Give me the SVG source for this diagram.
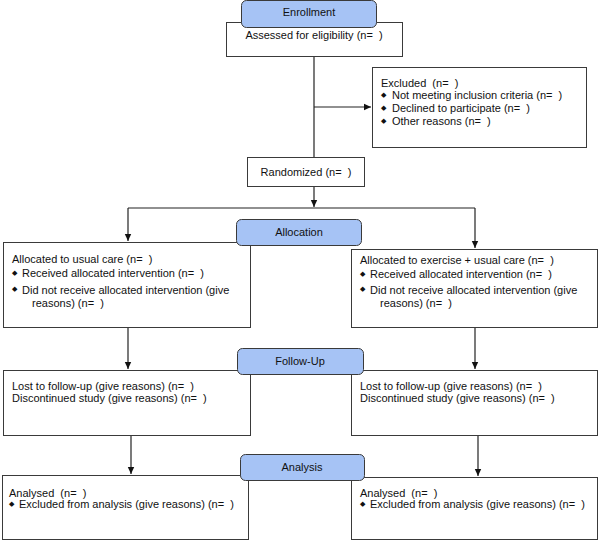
<svg xmlns="http://www.w3.org/2000/svg" width="600" height="541" viewBox="0 0 600 541" xml:space="preserve">
<style>
.box{fill:#fff;stroke:#3a3a3a;stroke-width:1}
.lab{fill:#a6c3f5;stroke:#3a3a3a;stroke-width:1}
text{font-family:"Liberation Sans",Arial,Helvetica,sans-serif;font-size:11px;fill:#111;white-space:pre}
.c{text-anchor:middle}
.b{font-size:7px}
.con{fill:none;stroke:#222;stroke-width:1.2}
</style>
<defs>
<marker id="ah" markerUnits="userSpaceOnUse" markerWidth="8" markerHeight="8" refX="7" refY="4" orient="auto">
<path d="M0,0.8 L7,4 L0,7.2 z" fill="#111"/>
</marker>
</defs>
<rect width="600" height="541" fill="#fff"/>
<g id="connectors">
<path class="con" d="M314,56 V157"/>
<path class="con" d="M314,107 H371" marker-end="url(#ah)"/>
<path class="con" d="M314,186 V207" marker-end="url(#ah)"/>
<path class="con" d="M128,208 H475"/>
<path class="con" d="M128,208 V241" marker-end="url(#ah)"/>
<path class="con" d="M475,208 V248" marker-end="url(#ah)"/>
<path class="con" d="M128,327 V369" marker-end="url(#ah)"/>
<path class="con" d="M475,327 V369" marker-end="url(#ah)"/>
<path class="con" d="M131,435 V474" marker-end="url(#ah)"/>
<path class="con" d="M478,435 V476" marker-end="url(#ah)"/>
</g>
<g id="assessed">
<rect class="box" x="226.5" y="22.5" width="176" height="34"/>
<text class="c" x="314" y="39">Assessed for eligibility (n=  )</text>
</g>
<g id="enrollment">
<rect class="lab" x="241.5" y="0.5" width="135" height="27" rx="5"/>
<text class="c" x="309" y="16">Enrollment</text>
</g>
<g id="excluded">
<rect class="box" x="372.5" y="67.5" width="214" height="80"/>
<text x="381" y="87">Excluded  (n=  )</text>
<text class="b" x="381" y="97">◆</text><text x="392" y="99">Not meeting inclusion criteria (n=  )</text>
<text class="b" x="381" y="110">◆</text><text x="392" y="112">Declined to participate (n=  )</text>
<text class="b" x="381" y="123">◆</text><text x="392" y="125">Other reasons (n=  )</text>
</g>
<g id="randomized">
<rect class="box" x="247.5" y="157.5" width="117" height="29"/>
<text class="c" x="306" y="176">Randomized (n=  )</text>
</g>
<g id="alloc-left">
<rect class="box" x="3.5" y="242.5" width="247" height="85"/>
<text x="12" y="263">Allocated to usual care (n=  )</text>
<text class="b" x="12" y="275">◆</text><text x="22" y="277">Received allocated intervention (n=  )</text>
<text class="b" x="12" y="291">◆</text><text x="22" y="294">Did not receive allocated intervention (give</text>
<text x="32" y="307">reasons) (n=  )</text>
</g>
<g id="alloc-right">
<rect class="box" x="351.5" y="249.5" width="246" height="78"/>
<text x="360" y="264">Allocated to exercise + usual care (n=  )</text>
<text class="b" x="360" y="276">◆</text><text x="370" y="278">Received allocated intervention (n=  )</text>
<text class="b" x="360" y="291">◆</text><text x="370" y="294">Did not receive allocated intervention (give</text>
<text x="380" y="307">reasons) (n=  )</text>
</g>
<g id="allocation">
<rect class="lab" x="236.5" y="219.5" width="125" height="26" rx="5"/>
<text class="c" x="299" y="236">Allocation</text>
</g>
<g id="follow-left">
<rect class="box" x="3.5" y="370.5" width="247" height="65"/>
<text x="12" y="390">Lost to follow-up (give reasons) (n=  )</text>
<text x="12" y="402">Discontinued study (give reasons) (n=  )</text>
</g>
<g id="follow-right">
<rect class="box" x="351.5" y="370.5" width="246" height="65"/>
<text x="360" y="390">Lost to follow-up (give reasons) (n=  )</text>
<text x="360" y="402">Discontinued study (give reasons) (n=  )</text>
</g>
<g id="followup">
<rect class="lab" x="237.5" y="348.5" width="126" height="26" rx="5"/>
<text class="c" x="300" y="365">Follow-Up</text>
</g>
<g id="analysis-left">
<rect class="box" x="2.5" y="475.5" width="246" height="64"/>
<text x="9" y="497">Analysed  (n=  )</text>
<text class="b" x="9" y="506">◆</text><text x="19" y="508">Excluded from analysis (give reasons) (n=  )</text>
</g>
<g id="analysis-right">
<rect class="box" x="351.5" y="477.5" width="246" height="62"/>
<text x="360" y="497">Analysed  (n=  )</text>
<text class="b" x="360" y="506">◆</text><text x="370" y="508">Excluded from analysis (give reasons) (n=  )</text>
</g>
<g id="analysis">
<rect class="lab" x="240.5" y="454.5" width="124" height="26" rx="5"/>
<text class="c" x="302" y="471">Analysis</text>
</g>
</svg>
